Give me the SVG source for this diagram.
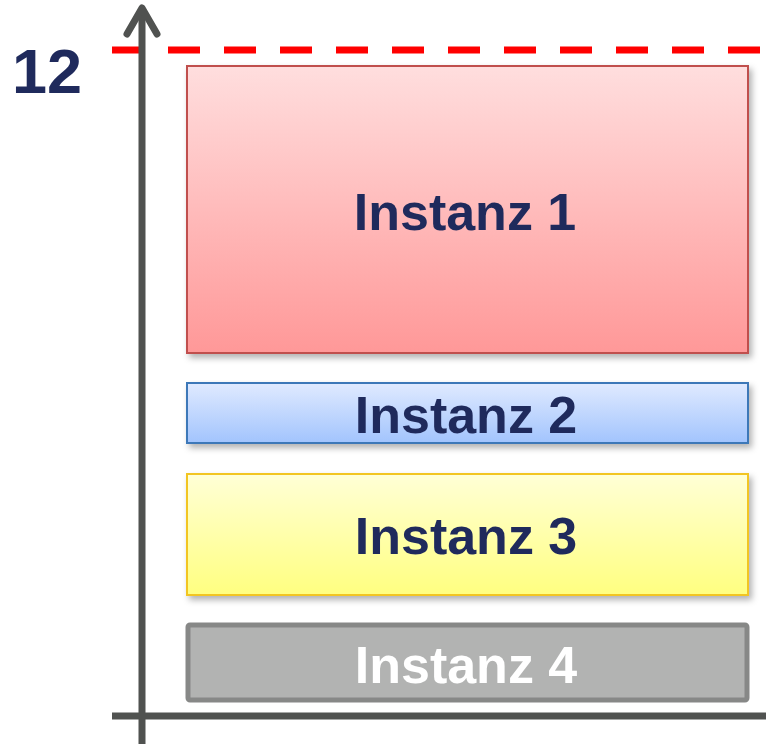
<svg xmlns="http://www.w3.org/2000/svg" width="766" height="744" viewBox="0 0 766 744">
<style>
.lbl{font-family:"Liberation Sans",Arial,sans-serif;font-weight:bold;font-size:52px;text-anchor:middle;fill:#1F2A5C}
.axis{stroke:#505250;stroke-width:7;fill:none}
</style>
<defs>
<linearGradient id="gRed" x1="0" y1="0" x2="0" y2="1"><stop offset="0" stop-color="#FFDEDE"/><stop offset="1" stop-color="#FF9898"/></linearGradient>
<linearGradient id="gBlue" x1="0" y1="0" x2="0" y2="1"><stop offset="0" stop-color="#E0EAFF"/><stop offset="1" stop-color="#A2C4FD"/></linearGradient>
<linearGradient id="gYel" x1="0" y1="0" x2="0" y2="1"><stop offset="0" stop-color="#FFFFD6"/><stop offset="1" stop-color="#FFFF80"/></linearGradient>
<filter id="sh" x="-5%" y="-5%" width="115%" height="130%"><feDropShadow dx="3" dy="4" stdDeviation="3" flood-color="#000" flood-opacity="0.3"/></filter>
</defs>
<g id="node-1">
<rect x="187" y="66" width="561" height="287" fill="url(#gRed)" stroke="#C0504D" stroke-width="2" filter="url(#sh)"/>
<text class="lbl" x="465" y="230">Instanz 1</text>
</g>
<g id="node-2">
<rect x="187" y="383" width="561" height="60" fill="url(#gBlue)" stroke="#3C78B8" stroke-width="2" filter="url(#sh)"/>
<text class="lbl" x="466" y="433">Instanz 2</text>
</g>
<g id="node-3">
<rect x="187" y="474" width="561" height="121" fill="url(#gYel)" stroke="#F2C522" stroke-width="2" filter="url(#sh)"/>
<text class="lbl" x="466" y="554">Instanz 3</text>
</g>
<g id="node-4">
<rect x="188" y="625" width="559" height="75" rx="2" fill="#B2B3B2" stroke="#878887" stroke-width="5"/>
<text class="lbl" x="466" y="683" style="fill:#FFFFFF">Instanz 4</text>
</g>
<g id="connectors">
<line x1="112" y1="50" x2="766" y2="50" stroke="#FF0000" stroke-width="7" stroke-dasharray="32 24"/>
<line class="axis" x1="142" y1="8" x2="142" y2="744"/>
<polyline class="axis" points="127,34 142,8 157,34" stroke-linecap="round" stroke-linejoin="round"/>
<line class="axis" x1="112" y1="716" x2="766" y2="716"/>
</g>
<text x="82" y="93" style="font-family:'Liberation Sans',Arial,sans-serif;font-weight:bold;font-size:63px;fill:#1F2A5C;text-anchor:end">12</text>
</svg>
